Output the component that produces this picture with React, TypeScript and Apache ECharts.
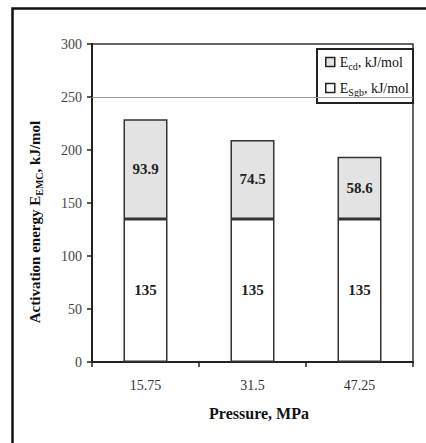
import React, { useEffect, useRef } from "react";
import * as echarts from "echarts";

const categories = ["15.75", "31.5", "47.25"];
const sgbValues = [135, 135, 135];
const cdValues = [93.9, 74.5, 58.6];
const yTicks = { min: 0, max: 300, interval: 50 };

const SERIF = "Liberation Serif";

export default function App() {
  const ref = useRef<HTMLDivElement>(null);
  useEffect(() => {
    document.body.style.margin = "0";
    const chart = echarts.init(ref.current!, null, { renderer: "svg" });
    const rich = {
      a: { fontFamily: SERIF, fontSize: 14, color: "#111" },
      s: { fontFamily: SERIF, fontSize: 10, color: "#111", verticalAlign: "bottom", padding: [8, 0, 0, 0] },
    };
    chart.setOption({
      animation: false,
      backgroundColor: "#fff",
      grid: {
        left: 92,
        right: 13,
        top: 44,
        bottom: 81,
        show: true,
        borderColor: "#333",
        borderWidth: 1.5,
        backgroundColor: "transparent",
      },
      legend: {
        orient: "vertical",
        right: 13,
        top: 49,
        icon: "rect",
        itemWidth: 9,
        itemHeight: 9,
        itemGap: 10,
        padding: [6, 4, 6, 8],
        borderColor: "#222",
        borderWidth: 2,
        backgroundColor: "#fff",
        data: ["cd", "sgb"],
        itemStyle: { borderColor: "#222", borderWidth: 1.5 },
        formatter: (n: string) =>
          n === "cd" ? "{a|E}{s|cd}{a|, kJ/mol}" : "{a|E}{s|Sgb}{a|, kJ/mol}",
        textStyle: { rich, fontFamily: SERIF, fontSize: 14 },
      },
      xAxis: {
        type: "category",
        data: categories,
        axisLine: { lineStyle: { color: "#222", width: 2 } },
        axisTick: { show: true, inside: false, length: 5, lineStyle: { color: "#222", width: 1.5 } },
        axisLabel: { fontFamily: SERIF, fontSize: 14, color: "#333", margin: 16 },
      },
      yAxis: {
        type: "value",
        min: yTicks.min,
        max: yTicks.max,
        interval: yTicks.interval,
        axisLine: { show: true, lineStyle: { color: "#222", width: 2 } },
        axisTick: { show: true, inside: false, length: 5, lineStyle: { color: "#222", width: 1.5 } },
        axisLabel: { fontFamily: SERIF, fontSize: 14, color: "#444", margin: 10 },
        splitLine: { show: false },
      },
      series: [
        {
          name: "sgb",
          type: "bar",
          stack: "e",
          data: sgbValues,
          barWidth: 44,
          itemStyle: { color: "#ffffff", borderColor: "#333", borderWidth: 1.5 },
          label: {
            show: true,
            position: "inside",
            fontFamily: SERIF,
            fontSize: 15,
            fontWeight: "bold",
            color: "#222",
          },
          markLine: {
            silent: true,
            symbol: "none",
            label: { show: false },
            lineStyle: { color: "#999", width: 1, type: "solid" },
            data: [{ yAxis: 250 }],
          },
        },
        {
          name: "cd",
          type: "bar",
          stack: "e",
          data: cdValues,
          barWidth: 44,
          itemStyle: { color: "#e3e3e3", borderColor: "#333", borderWidth: 1.5 },
          label: {
            show: true,
            position: "inside",
            fontFamily: SERIF,
            fontSize: 15,
            fontWeight: "bold",
            color: "#222",
          },
        },
      ],
      graphic: [
        {
          type: "text",
          x: 35,
          y: 222,
          rotation: Math.PI / 2,
          style: {
            text: "{b|Activation energy E}{s|EMC}{b|, kJ/mol}",
            align: "center",
            verticalAlign: "middle",
            rich: {
              b: { fontFamily: SERIF, fontSize: 15, fontWeight: "bold", fill: "#111" },
              s: { fontFamily: SERIF, fontSize: 10, fontWeight: "bold", fill: "#111", verticalAlign: "bottom", padding: [8, 0, 0, 0] },
            },
          },
        },
        {
          type: "text",
          x: 259,
          y: 413,
          style: {
            text: "Pressure, MPa",
            align: "center",
            verticalAlign: "middle",
            fontFamily: SERIF,
            fontSize: 16,
            fontWeight: "bold",
            fill: "#111",
          },
        },
        {
          type: "rect",
          left: 10,
          top: 6,
          shape: { width: 500, height: 500 },
          style: { fill: "none", stroke: "#111", lineWidth: 2.5 },
          z: 100,
        },
      ],
    });
    return () => chart.dispose();
  }, []);
  return <div ref={ref} style={{ width: 426, height: 443 }} />;
}
